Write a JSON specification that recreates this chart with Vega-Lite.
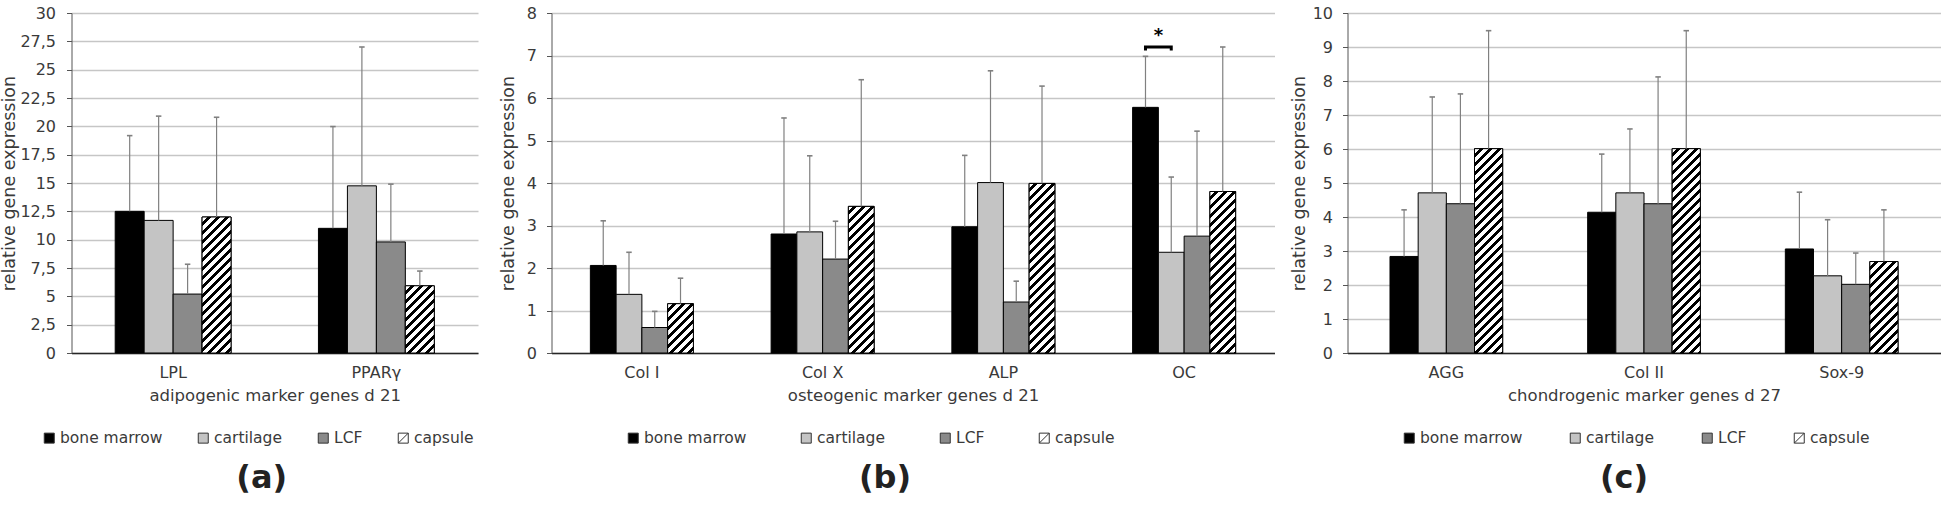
{
 "$schema": "https://vega.github.io/schema/vega-lite/v6.json",
 "autosize": "none",
 "padding": {"left": 71.5, "top": 13, "right": 1874.5, "bottom": 495},
 "background": "white",
 "params": [{"name": "st", "value": [
  {"offset":0,"color":"#fff"},{"offset":0.0212,"color":"#fff"},{"offset":0.0212,"color":"#000"},{"offset":0.0385,"color":"#000"},
  {"offset":0.0385,"color":"#fff"},{"offset":0.0596,"color":"#fff"},{"offset":0.0596,"color":"#000"},{"offset":0.0769,"color":"#000"},
  {"offset":0.0769,"color":"#fff"},{"offset":0.0981,"color":"#fff"},{"offset":0.0981,"color":"#000"},{"offset":0.1154,"color":"#000"},
  {"offset":0.1154,"color":"#fff"},{"offset":0.1365,"color":"#fff"},{"offset":0.1365,"color":"#000"},{"offset":0.1538,"color":"#000"},
  {"offset":0.1538,"color":"#fff"},{"offset":0.175,"color":"#fff"},{"offset":0.175,"color":"#000"},{"offset":0.1923,"color":"#000"},
  {"offset":0.1923,"color":"#fff"},{"offset":0.2135,"color":"#fff"},{"offset":0.2135,"color":"#000"},{"offset":0.2308,"color":"#000"},
  {"offset":0.2308,"color":"#fff"},{"offset":0.2519,"color":"#fff"},{"offset":0.2519,"color":"#000"},{"offset":0.2692,"color":"#000"},
  {"offset":0.2692,"color":"#fff"},{"offset":0.2904,"color":"#fff"},{"offset":0.2904,"color":"#000"},{"offset":0.3077,"color":"#000"},
  {"offset":0.3077,"color":"#fff"},{"offset":0.3288,"color":"#fff"},{"offset":0.3288,"color":"#000"},{"offset":0.3462,"color":"#000"},
  {"offset":0.3462,"color":"#fff"},{"offset":0.3673,"color":"#fff"},{"offset":0.3673,"color":"#000"},{"offset":0.3846,"color":"#000"},
  {"offset":0.3846,"color":"#fff"},{"offset":0.4058,"color":"#fff"},{"offset":0.4058,"color":"#000"},{"offset":0.4231,"color":"#000"},
  {"offset":0.4231,"color":"#fff"},{"offset":0.4442,"color":"#fff"},{"offset":0.4442,"color":"#000"},{"offset":0.4615,"color":"#000"},
  {"offset":0.4615,"color":"#fff"},{"offset":0.4827,"color":"#fff"},{"offset":0.4827,"color":"#000"},{"offset":0.5,"color":"#000"},
  {"offset":0.5,"color":"#fff"},{"offset":0.5212,"color":"#fff"},{"offset":0.5212,"color":"#000"},{"offset":0.5385,"color":"#000"},
  {"offset":0.5385,"color":"#fff"},{"offset":0.5596,"color":"#fff"},{"offset":0.5596,"color":"#000"},{"offset":0.5769,"color":"#000"},
  {"offset":0.5769,"color":"#fff"},{"offset":0.5981,"color":"#fff"},{"offset":0.5981,"color":"#000"},{"offset":0.6154,"color":"#000"},
  {"offset":0.6154,"color":"#fff"},{"offset":0.6365,"color":"#fff"},{"offset":0.6365,"color":"#000"},{"offset":0.6538,"color":"#000"},
  {"offset":0.6538,"color":"#fff"},{"offset":0.675,"color":"#fff"},{"offset":0.675,"color":"#000"},{"offset":0.6923,"color":"#000"},
  {"offset":0.6923,"color":"#fff"},{"offset":0.7135,"color":"#fff"},{"offset":0.7135,"color":"#000"},{"offset":0.7308,"color":"#000"},
  {"offset":0.7308,"color":"#fff"},{"offset":0.7519,"color":"#fff"},{"offset":0.7519,"color":"#000"},{"offset":0.7692,"color":"#000"},
  {"offset":0.7692,"color":"#fff"},{"offset":0.7904,"color":"#fff"},{"offset":0.7904,"color":"#000"},{"offset":0.8077,"color":"#000"},
  {"offset":0.8077,"color":"#fff"},{"offset":0.8288,"color":"#fff"},{"offset":0.8288,"color":"#000"},{"offset":0.8462,"color":"#000"},
  {"offset":0.8462,"color":"#fff"},{"offset":0.8673,"color":"#fff"},{"offset":0.8673,"color":"#000"},{"offset":0.8846,"color":"#000"},
  {"offset":0.8846,"color":"#fff"},{"offset":0.9058,"color":"#fff"},{"offset":0.9058,"color":"#000"},{"offset":0.9231,"color":"#000"},
  {"offset":0.9231,"color":"#fff"},{"offset":0.9442,"color":"#fff"},{"offset":0.9442,"color":"#000"},{"offset":0.9615,"color":"#000"},
  {"offset":0.9615,"color":"#fff"},{"offset":0.9827,"color":"#fff"},{"offset":0.9827,"color":"#000"},{"offset":1,"color":"#000"}
 ]}],
 "datasets": {
  "a": [
   {"gene":"LPL","tissue":"bone marrow","value":12.5,"err":19.18},
   {"gene":"LPL","tissue":"cartilage","value":11.7,"err":20.9},
   {"gene":"LPL","tissue":"LCF","value":5.2,"err":7.83},
   {"gene":"LPL","tissue":"capsule","value":12.0,"err":20.8},
   {"gene":"PPARγ","tissue":"bone marrow","value":11.0,"err":19.98},
   {"gene":"PPARγ","tissue":"cartilage","value":14.75,"err":27.0},
   {"gene":"PPARγ","tissue":"LCF","value":9.8,"err":14.9},
   {"gene":"PPARγ","tissue":"capsule","value":5.93,"err":7.23}
  ],
  "b": [
   {"gene":"Col I","tissue":"bone marrow","value":2.06,"err":3.11},
   {"gene":"Col I","tissue":"cartilage","value":1.38,"err":2.37},
   {"gene":"Col I","tissue":"LCF","value":0.6,"err":0.98},
   {"gene":"Col I","tissue":"capsule","value":1.16,"err":1.76},
   {"gene":"Col X","tissue":"bone marrow","value":2.8,"err":5.53},
   {"gene":"Col X","tissue":"cartilage","value":2.85,"err":4.64},
   {"gene":"Col X","tissue":"LCF","value":2.21,"err":3.1},
   {"gene":"Col X","tissue":"capsule","value":3.45,"err":6.43},
   {"gene":"ALP","tissue":"bone marrow","value":2.97,"err":4.65},
   {"gene":"ALP","tissue":"cartilage","value":4.01,"err":6.64},
   {"gene":"ALP","tissue":"LCF","value":1.2,"err":1.69},
   {"gene":"ALP","tissue":"capsule","value":3.99,"err":6.28},
   {"gene":"OC","tissue":"bone marrow","value":5.78,"err":6.98},
   {"gene":"OC","tissue":"cartilage","value":2.37,"err":4.14},
   {"gene":"OC","tissue":"LCF","value":2.75,"err":5.22},
   {"gene":"OC","tissue":"capsule","value":3.8,"err":7.2}
  ],
  "c": [
   {"gene":"AGG","tissue":"bone marrow","value":2.84,"err":4.21},
   {"gene":"AGG","tissue":"cartilage","value":4.71,"err":7.53},
   {"gene":"AGG","tissue":"LCF","value":4.39,"err":7.62},
   {"gene":"AGG","tissue":"capsule","value":6.01,"err":9.48},
   {"gene":"Col II","tissue":"bone marrow","value":4.14,"err":5.85},
   {"gene":"Col II","tissue":"cartilage","value":4.71,"err":6.59},
   {"gene":"Col II","tissue":"LCF","value":4.39,"err":8.12},
   {"gene":"Col II","tissue":"capsule","value":6.01,"err":9.48},
   {"gene":"Sox-9","tissue":"bone marrow","value":3.06,"err":4.73},
   {"gene":"Sox-9","tissue":"cartilage","value":2.27,"err":3.92},
   {"gene":"Sox-9","tissue":"LCF","value":2.02,"err":2.94},
   {"gene":"Sox-9","tissue":"capsule","value":2.69,"err":4.21}
  ]
 },
 "spacing": 73,
 "bounds": "flush",
 "config": {
  "font": "DejaVu Sans",
  "view": {"stroke": null},
  "axis": {"labelFontSize": 16, "labelColor": "#3a3a3a", "titleFontSize": 16.5, "titleFontWeight": "normal", "titleColor": "#3a3a3a", "labelFont": "DejaVu Sans", "titleFont": "DejaVu Sans", "labelOverlap": false},
  "axisY": {"domainColor": "#555555", "tickColor": "#555555", "tickSize": 5, "gridColor": "#c6c6c6", "gridWidth": 1.5, "labelPadding": 10, "domainWidth": 1, "titleFontSize": 17.5},
  "axisX": {"ticks": false, "domainColor": "#262626", "domainWidth": 1.5, "labelPadding": 11, "titlePadding": 7, "labelAngle": 0, "grid": false},
  "legend": {"orient": "none", "direction": "horizontal", "title": null, "labelFontSize": 15.5, "labelColor": "#3a3a3a", "labelFont": "DejaVu Sans", "symbolType": "square", "symbolSize": 100, "symbolStrokeColor": "#333333", "symbolStrokeWidth": 1, "labelOffset": 3, "padding": 0, "labelLimit": 300},
  "title": {"orient": "bottom", "frame": "group", "anchor": "middle", "fontSize": 32, "fontWeight": "bold", "color": "#222222", "font": "DejaVu Sans"}
 },
 "resolve": {"scale": {"x": "independent", "y": "independent", "xOffset": "independent", "fill": "independent"}, "legend": {"fill": "independent"}},
 "hconcat": [
  {
   "width": 406.5, "height": 340,
   "data": {"name": "a"},
   "title": {"text": "(a)", "dx": -13, "offset": 16},
   "encoding": {
    "x": {"field": "gene", "type": "nominal", "scale": {"domain": ["LPL","PPARγ"], "paddingInner": 0.43, "paddingOuter": 0.215}, "axis": {"title": "adipogenic marker genes d 21"}},
    "xOffset": {"field": "tissue", "type": "nominal", "scale": {"domain": ["bone marrow","cartilage","LCF","capsule"]}}
   },
   "layer": [
    {"mark": {"type": "bar", "stroke": "#000", "strokeWidth": 1},
     "encoding": {
      "y": {"field": "value", "type": "quantitative", "scale": {"domain": [0,30], "nice": false}, "axis": {"title": "relative gene expression", "values": [0,2.5,5,7.5,10,12.5,15,17.5,20,22.5,25,27.5,30], "labelOverlap": false, "labelExpr": "replace(format(datum.value, '~g'), '.', ',')", "labelPadding": 11, "titlePadding": 1}},
      "fill": {"field": "tissue", "type": "nominal", "scale": {"domain": ["bone marrow","cartilage","LCF","capsule"], "range": ["#000000","#c4c4c4","#8a8a8a","#ffffff"]},
        "legend": {"legendX": -30, "legendY": 417, "columnPadding": 33,
          "encode": {"symbols": {"update": {"shape": {"signal": "datum.value=='capsule' ? 'M-1,-1L1,-1L1,1L-1,1Z M-1,1L1,-1' : 'square'"}}}}}}
     }},
    {"transform": [{"filter": "datum.tissue == 'capsule'"}],
     "mark": {"type": "bar", "stroke": "#000", "strokeWidth": 1, "fill": {"expr": "{gradient:'linear',x1:0,y1:0,x2:datum.gene=='LPL'?0.3505:1.2656,y2:datum.gene=='LPL'?1.6459:2.9367,stops:st}"}},
     "encoding": {"y": {"field": "value", "type": "quantitative", "scale": {"domain": [0,30], "nice": false}, "axis": {"title": "relative gene expression", "values": [0,2.5,5,7.5,10,12.5,15,17.5,20,22.5,25,27.5,30], "labelOverlap": false, "labelExpr": "replace(format(datum.value, '~g'), '.', ',')", "labelPadding": 11, "titlePadding": 1}}}},
    {"mark": {"type": "rule", "color": "#808080", "strokeWidth": 1.2},
     "encoding": {"y": {"field": "value", "type": "quantitative", "scale": {"domain": [0,30], "nice": false}, "axis": {"title": "relative gene expression", "values": [0,2.5,5,7.5,10,12.5,15,17.5,20,22.5,25,27.5,30], "labelOverlap": false, "labelExpr": "replace(format(datum.value, '~g'), '.', ',')", "labelPadding": 11, "titlePadding": 1}}, "y2": {"field": "err"}}},
    {"mark": {"type": "point", "shape": "M-1,0L1,0", "size": 30, "stroke": "#808080", "strokeWidth": 1.6, "filled": false, "opacity": 1},
     "encoding": {"y": {"field": "err", "type": "quantitative", "scale": {"domain": [0,30], "nice": false}, "axis": {"title": "relative gene expression", "values": [0,2.5,5,7.5,10,12.5,15,17.5,20,22.5,25,27.5,30], "labelOverlap": false, "labelExpr": "replace(format(datum.value, '~g'), '.', ',')", "labelPadding": 11, "titlePadding": 1}}}}
   ]
  },
  {
   "width": 723, "height": 340,
   "data": {"name": "b"},
   "title": {"text": "(b)", "dx": -28, "offset": 16},
   "encoding": {
    "x": {"field": "gene", "type": "nominal", "scale": {"domain": ["Col I","Col X","ALP","OC"], "paddingInner": 0.43, "paddingOuter": 0.215}, "axis": {"title": "osteogenic marker genes d 21"}},
    "xOffset": {"field": "tissue", "type": "nominal", "scale": {"domain": ["bone marrow","cartilage","LCF","capsule"]}}
   },
   "layer": [
    {"mark": {"type": "bar", "stroke": "#000", "strokeWidth": 1},
     "encoding": {
      "y": {"field": "value", "type": "quantitative", "scale": {"domain": [0,8], "nice": false}, "axis": {"title": "relative gene expression", "values": [0,1,2,3,4,5,6,7,8], "labelOverlap": false, "titlePadding": 9}},
      "fill": {"field": "tissue", "type": "nominal", "scale": {"domain": ["bone marrow","cartilage","LCF","capsule"], "range": ["#000000","#c4c4c4","#8a8a8a","#ffffff"]},
        "legend": {"legendX": 74, "legendY": 417, "columnPadding": 52,
          "encode": {"symbols": {"update": {"shape": {"signal": "datum.value=='capsule' ? 'M-1,-1L1,-1L1,1L-1,1Z M-1,1L1,-1' : 'square'"}}}}}}
     }},
    {"transform": [{"filter": "datum.tissue == 'capsule'"}],
     "mark": {"type": "bar", "stroke": "#000", "strokeWidth": 1, "fill": {"expr": "{gradient:'linear',x1:0,y1:0,x2:datum.gene=='Col I'?1.9499:(datum.gene=='Col X'?0.2725:(datum.gene=='ALP'?0.2051:0.2257)),y2:datum.gene=='Col I'?3.726:(datum.gene=='Col X'?1.5482:(datum.gene=='ALP'?1.3485:1.4129)),stops:st}"}},
     "encoding": {"y": {"field": "value", "type": "quantitative", "scale": {"domain": [0,8], "nice": false}, "axis": {"title": "relative gene expression", "values": [0,1,2,3,4,5,6,7,8], "labelOverlap": false, "titlePadding": 9}}}},
    {"mark": {"type": "rule", "color": "#808080", "strokeWidth": 1.2},
     "encoding": {"y": {"field": "value", "type": "quantitative", "scale": {"domain": [0,8], "nice": false}, "axis": {"title": "relative gene expression", "values": [0,1,2,3,4,5,6,7,8], "labelOverlap": false, "titlePadding": 9}}, "y2": {"field": "err"}}},
    {"mark": {"type": "point", "shape": "M-1,0L1,0", "size": 30, "stroke": "#808080", "strokeWidth": 1.6, "filled": false, "opacity": 1},
     "encoding": {"y": {"field": "err", "type": "quantitative", "scale": {"domain": [0,8], "nice": false}, "axis": {"title": "relative gene expression", "values": [0,1,2,3,4,5,6,7,8], "labelOverlap": false, "titlePadding": 9}}}},
    {"data": {"values": [
      {"gene":"OC","tissue":"bone marrow","y":7.12,"o":1},
      {"gene":"OC","tissue":"bone marrow","y":7.2,"o":2},
      {"gene":"OC","tissue":"cartilage","y":7.2,"o":3},
      {"gene":"OC","tissue":"cartilage","y":7.12,"o":4}]},
     "mark": {"type": "line", "color": "#000", "strokeWidth": 3, "strokeCap": "butt", "strokeJoin": "miter"},
     "encoding": {"y": {"field": "y", "type": "quantitative", "scale": {"domain": [0,8], "nice": false}, "axis": {"title": "relative gene expression", "values": [0,1,2,3,4,5,6,7,8], "labelOverlap": false, "titlePadding": 9}}, "order": {"field": "o", "type": "quantitative"}}},
    {"data": {"values": [{"gene":"OC","tissue":"bone marrow","y":7.47,"label":"*"}]},
     "mark": {"type": "text", "fontSize": 18, "fontWeight": "bold", "dx": 13, "baseline": "middle", "color": "#000", "font": "DejaVu Sans"},
     "encoding": {"y": {"field": "y", "type": "quantitative", "scale": {"domain": [0,8], "nice": false}, "axis": {"title": "relative gene expression", "values": [0,1,2,3,4,5,6,7,8], "labelOverlap": false, "titlePadding": 9}}, "text": {"field": "label"}}}
   ]
  },
  {
   "width": 593, "height": 340,
   "data": {"name": "c"},
   "title": {"text": "(c)", "dx": -20, "offset": 16},
   "encoding": {
    "x": {"field": "gene", "type": "nominal", "scale": {"domain": ["AGG","Col II","Sox-9"], "paddingInner": 0.43, "paddingOuter": 0.215}, "axis": {"title": "chondrogenic marker genes d 27"}},
    "xOffset": {"field": "tissue", "type": "nominal", "scale": {"domain": ["bone marrow","cartilage","LCF","capsule"]}}
   },
   "layer": [
    {"mark": {"type": "bar", "stroke": "#000", "strokeWidth": 1},
     "encoding": {
      "y": {"field": "value", "type": "quantitative", "scale": {"domain": [0,10], "nice": false}, "axis": {"title": "relative gene expression", "values": [0,1,2,3,4,5,6,7,8,9,10], "labelOverlap": false, "titlePadding": 4}},
      "fill": {"field": "tissue", "type": "nominal", "scale": {"domain": ["bone marrow","cartilage","LCF","capsule"], "range": ["#000000","#c4c4c4","#8a8a8a","#ffffff"]},
        "legend": {"legendX": 54, "legendY": 417, "columnPadding": 45,
          "encode": {"symbols": {"update": {"shape": {"signal": "datum.value=='capsule' ? 'M-1,-1L1,-1L1,1L-1,1Z M-1,1L1,-1' : 'square'"}}}}}}
     }},
    {"transform": [{"filter": "datum.tissue == 'capsule'"}],
     "mark": {"type": "bar", "stroke": "#000", "strokeWidth": 1, "fill": {"expr": "{gradient:'linear',x1:0,y1:0,x2:datum.gene=='Sox-9'?0.7197:0.155,y2:datum.gene=='Sox-9'?2.3368:1.124,stops:st}"}},
     "encoding": {"y": {"field": "value", "type": "quantitative", "scale": {"domain": [0,10], "nice": false}, "axis": {"title": "relative gene expression", "values": [0,1,2,3,4,5,6,7,8,9,10], "labelOverlap": false, "titlePadding": 4}}}},
    {"mark": {"type": "rule", "color": "#808080", "strokeWidth": 1.2},
     "encoding": {"y": {"field": "value", "type": "quantitative", "scale": {"domain": [0,10], "nice": false}, "axis": {"title": "relative gene expression", "values": [0,1,2,3,4,5,6,7,8,9,10], "labelOverlap": false, "titlePadding": 4}}, "y2": {"field": "err"}}},
    {"mark": {"type": "point", "shape": "M-1,0L1,0", "size": 30, "stroke": "#808080", "strokeWidth": 1.6, "filled": false, "opacity": 1},
     "encoding": {"y": {"field": "err", "type": "quantitative", "scale": {"domain": [0,10], "nice": false}, "axis": {"title": "relative gene expression", "values": [0,1,2,3,4,5,6,7,8,9,10], "labelOverlap": false, "titlePadding": 4}}}}
   ]
  }
 ]
}
